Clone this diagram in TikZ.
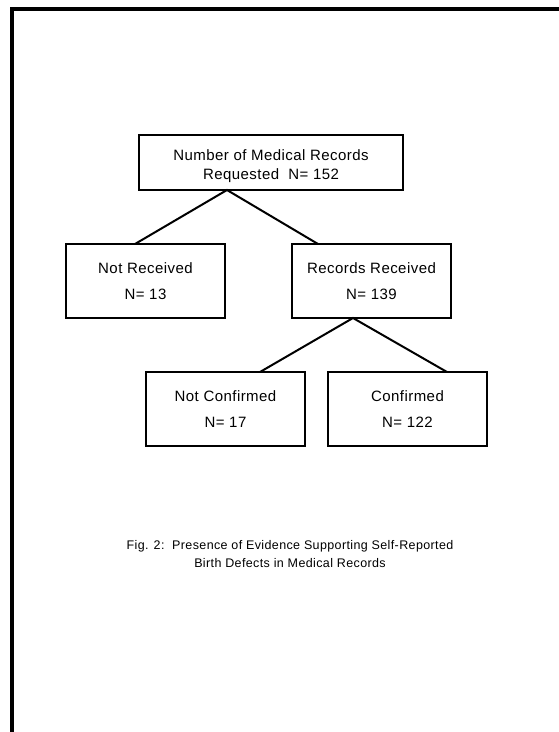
\documentclass[tikz,border=0pt]{standalone}
\usepackage{fontspec}
\setmainfont{Liberation Sans}
\newfontfamily\boxfont[LetterSpace=3]{Liberation Sans}
\newfontfamily\capfont[LetterSpace=3]{Liberation Sans}
\begin{document}
\begin{tikzpicture}[x=1pt,y=-1pt,
  box/.style={draw, line width=2pt, inner sep=0pt, outer sep=0pt,
    minimum width=159pt, minimum height=74pt, align=center,
    font=\boxfont\fontsize{15}{26.5}\selectfont},
  conn/.style={line width=2pt},
  txt/.style={inner sep=0pt, align=center},
  captext/.style={inner sep=0pt, font=\capfont\fontsize{12.5}{18}\selectfont, align=center}]
\useasboundingbox (0,0) rectangle (558,732);
% frame
\draw[line width=4pt] (12,740) -- (12,9) -- (565,9);
% nodes
\node[box, minimum width=264pt, minimum height=55pt] (top) at (271,162.5) {};
\node[txt, font=\boxfont\fontsize{15}{19}\selectfont] (toptext) at ([yshift=-4pt]top.center)
  {Number of Medical Records\\ Requested\ \ N= 152};
\node[box] (nr) at (145.5,281) {Not Received\\ N= 13};
\node[box] (rr) at (371.5,281) {Records Received\\ N= 139};
\node[box] (nc) at (225.5,409) {Not Confirmed\\ N= 17};
\node[box] (cf) at (407.5,409) {Confirmed\\ N= 122};
% connectors
\coordinate (a1) at ([xshift=-44pt]top.south);
\coordinate (a2) at ([xshift=-18.5pt]rr.south);
\draw[conn] ([xshift=-10.5pt]nr.north) -- (a1) -- ([xshift=-53.5pt]rr.north);
\draw[conn] ([xshift=34.5pt]nc.north) -- (a2) -- ([xshift=39.5pt]cf.north);
% caption
\node[captext] (cap) at (290,554)
  {Fig. 2:\ \ Presence of Evidence Supporting Self-Reported\\ Birth Defects in Medical Records};
\end{tikzpicture}
\end{document}
